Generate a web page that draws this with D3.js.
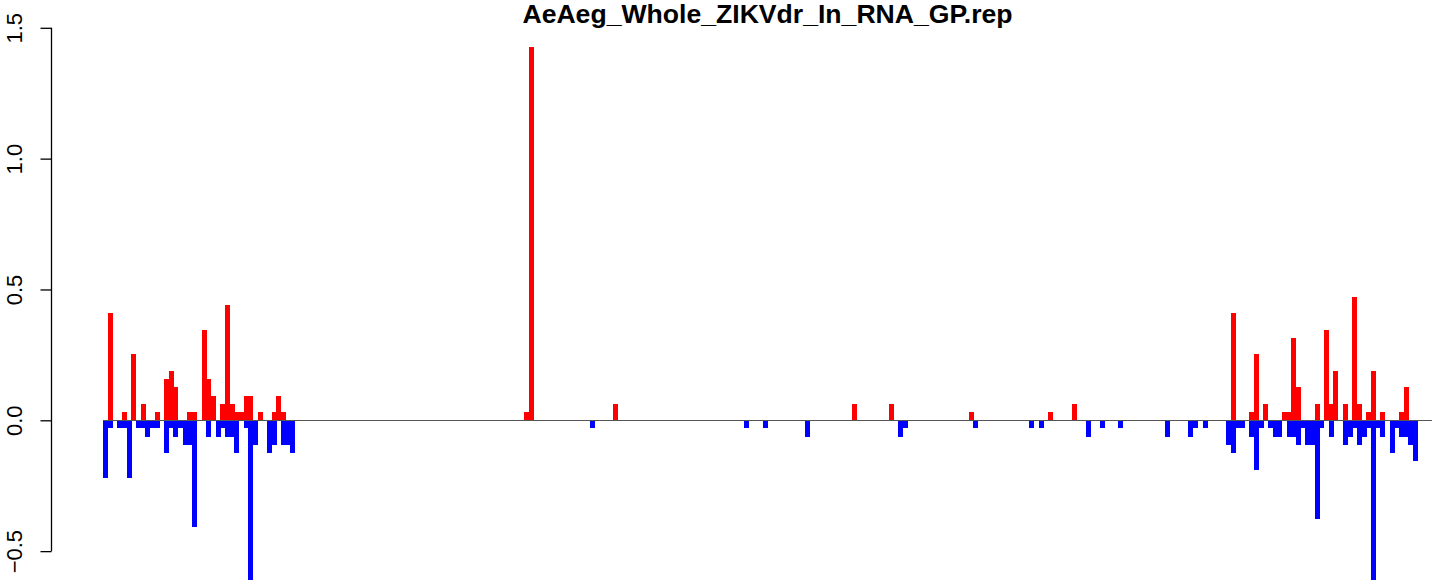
<!DOCTYPE html>
<html>
<head>
<meta charset="utf-8">
<script src="https://cdn.jsdelivr.net/npm/d3@7"></script>
<style>
  html, body { margin: 0; padding: 0; background: #ffffff; }
  svg { display: block; }
  text { font-family: "Liberation Sans", Arial, Helvetica, sans-serif; }
</style>
</head>
<body>
<svg id="chart" width="1444" height="580"></svg>
<script>
// ---- data (bin index along the genome, value) ----
const titleText = "AeAeg_Whole_ZIKVdr_In_RNA_GP.rep";
const yTicks = [-0.5, 0.0, 0.5, 1.0, 1.5];
const binCount = 281;            // bins 0..280
const lineExtent = [-0.6, 283.5]; // zero line span in bin units

const redBins = [1, 4, 6, 8, 11, 13, 14, 15, 18, 19, 21, 22, 23, 25, 26, 27, 28, 29, 30, 31, 33, 36, 37, 38,
  90, 91, 109, 160, 168, 185, 202, 207,
  241, 245, 246, 248, 252, 253, 254, 255, 259, 261, 262, 263, 265, 267, 268, 270, 271, 273, 277, 278];
const redValues = [0.409, 0.031, 0.252, 0.063, 0.031, 0.157, 0.189, 0.126, 0.031, 0.031, 0.346, 0.157, 0.094, 0.063, 0.441, 0.063, 0.031, 0.031, 0.094, 0.094, 0.031, 0.031, 0.094, 0.031,
  0.031, 1.425, 0.063, 0.063, 0.063, 0.031, 0.031, 0.063,
  0.409, 0.031, 0.252, 0.063, 0.031, 0.031, 0.315, 0.126, 0.063, 0.346, 0.063, 0.189, 0.063, 0.472, 0.063, 0.031, 0.189, 0.031, 0.031, 0.126];

const blueBins = [0, 1, 3, 4, 5, 7, 8, 9, 10, 11, 13, 14, 15, 16, 17, 18, 19, 22, 24, 25, 26, 27, 28, 30, 31, 32, 35, 36, 38, 39, 40,
  104, 137, 141, 150, 170, 171, 186, 198, 200, 210, 213, 217, 227, 232, 233, 235,
  240, 241, 242, 243, 245, 246, 247, 249, 250, 251, 253, 254, 255, 256, 257, 258, 259, 260, 262, 265, 266, 267, 268, 269, 270, 271, 272, 273, 275, 276, 277, 278, 279, 280];
const blueValues = [-0.220, -0.031, -0.031, -0.031, -0.220, -0.031, -0.031, -0.063, -0.031, -0.031, -0.126, -0.031, -0.063, -0.031, -0.094, -0.094, -0.409, -0.063, -0.063, -0.031, -0.063, -0.063, -0.126, -0.031, -0.630, -0.094, -0.126, -0.094, -0.094, -0.094, -0.126,
  -0.031, -0.031, -0.031, -0.063, -0.063, -0.031, -0.031, -0.031, -0.031, -0.063, -0.031, -0.031, -0.063, -0.063, -0.031, -0.031,
  -0.094, -0.126, -0.031, -0.031, -0.063, -0.189, -0.031, -0.031, -0.063, -0.063, -0.063, -0.063, -0.094, -0.031, -0.094, -0.094, -0.378, -0.031, -0.063, -0.094, -0.063, -0.031, -0.094, -0.063, -0.031, -0.630, -0.031, -0.063, -0.126, -0.031, -0.063, -0.063, -0.094, -0.157];

// ---- layout ----
const svg = d3.select("#chart");
const x = d3.scaleLinear().domain([0, binCount - 1]).range([105.8, 1415.5]);
const y = d3.scaleLinear().domain([0, 1.5]).range([420.3, 27.8]);
const barW = 5;

const red = redBins.map((b, i) => ({ b, v: redValues[i] }));
const blue = blueBins.map((b, i) => ({ b, v: blueValues[i] }));

svg.append("g").attr("shape-rendering", "crispEdges")
  .selectAll("rect.red").data(red).join("rect")
  .attr("x", d => Math.round(x(d.b) - barW / 2))
  .attr("width", barW)
  .attr("y", d => y(d.v))
  .attr("height", d => y(0) - y(d.v))
  .attr("fill", "#ff0000");

svg.append("g").attr("shape-rendering", "crispEdges")
  .selectAll("rect.blue").data(blue).join("rect")
  .attr("x", d => Math.round(x(d.b) - barW / 2))
  .attr("width", barW)
  .attr("y", y(0))
  .attr("height", d => y(d.v) - y(0))
  .attr("fill", "#0000ff");

// zero line
svg.append("line")
  .attr("x1", x(lineExtent[0])).attr("x2", x(lineExtent[1]))
  .attr("y1", Math.round(y(0)) + 0.5).attr("y2", Math.round(y(0)) + 0.5)
  .attr("stroke", "#555555").attr("stroke-width", 1.2);

// y axis
const axisX = 51;
const yAxis = d3.axisLeft(y).tickValues(yTicks).tickSize(11).tickPadding(0)
  .tickFormat(d3.format(".1f"));
const gA = svg.append("g").attr("transform", `translate(${axisX},0)`).call(yAxis);
gA.select(".domain").attr("d", `M0.5,${y(yTicks[0])}V${y(yTicks[yTicks.length - 1])}`)
  .attr("stroke", "#000").attr("stroke-width", 1.3);
gA.selectAll(".tick line").attr("stroke", "#000").attr("stroke-width", 1.3).attr("x1", 0.5).attr("x2", -10.5);
gA.selectAll(".tick text")
  .attr("x", null).attr("dy", null)
  .attr("transform", `translate(${22 - axisX},0) rotate(-90)`)
  .attr("text-anchor", "middle")
  .attr("font-size", 22)
  .attr("font-family", "Liberation Sans, Arial, sans-serif")
  .attr("fill", "#000")
  .text(d => d < 0 ? "\u2212" + d3.format(".1f")(-d) : d3.format(".1f")(d));

// title
svg.append("text")
  .attr("x", 767.5).attr("y", 22.5)
  .attr("text-anchor", "middle")
  .attr("font-size", 26.6)
  .attr("font-weight", "bold")
  .attr("fill", "#000")
  .text(titleText);
</script>
</body>
</html>
